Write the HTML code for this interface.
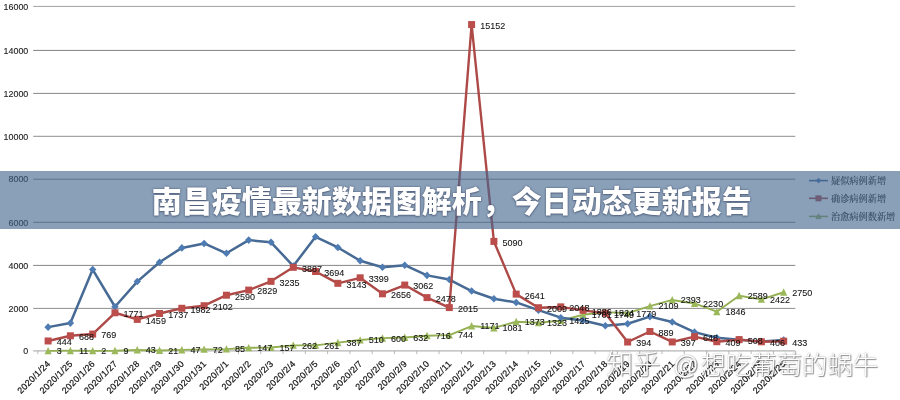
<!DOCTYPE html>
<html lang="zh-CN"><head><meta charset="utf-8"><title>南昌疫情最新数据图解析，今日动态更新报告</title>
<style>
html,body{margin:0;padding:0;background:#fff;}
body{width:900px;height:400px;position:relative;overflow:hidden;font-family:"Liberation Sans","Noto Sans CJK SC",sans-serif;}
.wm{position:absolute;left:606px;top:346px;font-size:26.4px;line-height:38px;color:#fff;white-space:nowrap;
 text-shadow:1px 1px 1px rgba(60,60,60,.55),0 0 1.5px rgba(60,60,60,.55);font-weight:300;}
.wm span{position:absolute;top:0;display:block;white-space:pre}
.w1{left:0;font-size:27.2px}.w2{left:60px;font-size:25.4px}.w3{left:94.5px;font-size:25.4px}
.banner{position:absolute;left:0;top:171px;width:900px;height:58px;background:rgba(66,102,142,.62);}
.title{position:absolute;left:1.8px;top:172.5px;width:900px;height:58px;line-height:58px;text-align:center;color:#fff;font-size:30px;font-weight:900;
 font-family:"Liberation Sans","Noto Sans CJK SC",sans-serif;white-space:nowrap;text-shadow:0 0 2px rgba(40,50,80,.75),0 1px 2px rgba(40,50,80,.4);}
</style></head><body>
<svg width="900" height="400" viewBox="0 0 900 400" style="position:absolute;left:0;top:0">
<rect width="900" height="400" fill="#fff"/>
<g stroke="#858585" stroke-width="1">
<line x1="33.2" x2="795.3" y1="308.4" y2="308.4" stroke="#8e8e8e"/>
<line x1="33.2" x2="795.3" y1="265.4" y2="265.4" stroke="#868686"/>
<line x1="33.2" x2="795.3" y1="222.3" y2="222.3" stroke="#868686"/>
<line x1="33.2" x2="795.3" y1="179.2" y2="179.2" stroke="#868686"/>
<line x1="33.2" x2="795.3" y1="136.3" y2="136.3" stroke="#8e8e8e"/>
<line x1="33.2" x2="795.3" y1="93.4" y2="93.4" stroke="#888"/>
<line x1="33.2" x2="795.3" y1="50.4" y2="50.4" stroke="#808080"/>
<line x1="33.2" x2="795.3" y1="6.4" y2="6.4" stroke="#a2a2a2"/>
</g>
<line x1="33.2" x2="795.3" y1="350.9" y2="350.9" stroke="#b4b4b4" stroke-width="1.2"/>
<g stroke="#a8a8a8" stroke-width="0.8">
<line x1="37.85" x2="37.85" y1="350.9" y2="354.09999999999997"/>
<line x1="60.14" x2="60.14" y1="350.9" y2="354.09999999999997"/>
<line x1="82.44" x2="82.44" y1="350.9" y2="354.09999999999997"/>
<line x1="104.73" x2="104.73" y1="350.9" y2="354.09999999999997"/>
<line x1="127.02" x2="127.02" y1="350.9" y2="354.09999999999997"/>
<line x1="149.3" x2="149.3" y1="350.9" y2="354.09999999999997"/>
<line x1="171.59" x2="171.59" y1="350.9" y2="354.09999999999997"/>
<line x1="193.89" x2="193.89" y1="350.9" y2="354.09999999999997"/>
<line x1="216.17" x2="216.17" y1="350.9" y2="354.09999999999997"/>
<line x1="238.47" x2="238.47" y1="350.9" y2="354.09999999999997"/>
<line x1="260.75" x2="260.75" y1="350.9" y2="354.09999999999997"/>
<line x1="283.04" x2="283.04" y1="350.9" y2="354.09999999999997"/>
<line x1="305.33" x2="305.33" y1="350.9" y2="354.09999999999997"/>
<line x1="327.62" x2="327.62" y1="350.9" y2="354.09999999999997"/>
<line x1="349.91" x2="349.91" y1="350.9" y2="354.09999999999997"/>
<line x1="372.2" x2="372.2" y1="350.9" y2="354.09999999999997"/>
<line x1="394.49" x2="394.49" y1="350.9" y2="354.09999999999997"/>
<line x1="416.78" x2="416.78" y1="350.9" y2="354.09999999999997"/>
<line x1="439.07" x2="439.07" y1="350.9" y2="354.09999999999997"/>
<line x1="461.36" x2="461.36" y1="350.9" y2="354.09999999999997"/>
<line x1="483.65" x2="483.65" y1="350.9" y2="354.09999999999997"/>
<line x1="505.94" x2="505.94" y1="350.9" y2="354.09999999999997"/>
<line x1="528.24" x2="528.24" y1="350.9" y2="354.09999999999997"/>
<line x1="550.52" x2="550.52" y1="350.9" y2="354.09999999999997"/>
<line x1="572.82" x2="572.82" y1="350.9" y2="354.09999999999997"/>
<line x1="595.11" x2="595.11" y1="350.9" y2="354.09999999999997"/>
<line x1="617.39" x2="617.39" y1="350.9" y2="354.09999999999997"/>
<line x1="639.68" x2="639.68" y1="350.9" y2="354.09999999999997"/>
<line x1="661.98" x2="661.98" y1="350.9" y2="354.09999999999997"/>
<line x1="684.26" x2="684.26" y1="350.9" y2="354.09999999999997"/>
<line x1="706.55" x2="706.55" y1="350.9" y2="354.09999999999997"/>
<line x1="728.85" x2="728.85" y1="350.9" y2="354.09999999999997"/>
<line x1="751.13" x2="751.13" y1="350.9" y2="354.09999999999997"/>
<line x1="773.42" x2="773.42" y1="350.9" y2="354.09999999999997"/>
<line x1="795.72" x2="795.72" y1="350.9" y2="354.09999999999997"/>
</g>
<g font-family="'Liberation Sans',sans-serif" font-size="8.9" fill="#1c1c1c" stroke="#1c1c1c" stroke-width="0.12" text-anchor="end">
<text x="28.3" y="354.10">0</text>
<text x="28.3" y="311.60">2000</text>
<text x="28.3" y="268.60">4000</text>
<text x="28.3" y="225.50">6000</text>
<text x="28.3" y="182.40">8000</text>
<text x="28.3" y="139.50">10000</text>
<text x="28.3" y="96.60">12000</text>
<text x="28.3" y="53.60">14000</text>
<text x="28.3" y="9.60">16000</text>
</g>
<g font-family="'Liberation Sans',sans-serif" font-size="8.9" fill="#111" text-anchor="end" stroke="#111" stroke-width="0.2" letter-spacing="0.33">
<text transform="translate(51.00,364.20) rotate(-45)">2020/1/24</text>
<text transform="translate(73.29,364.20) rotate(-45)">2020/1/25</text>
<text transform="translate(95.58,364.20) rotate(-45)">2020/1/26</text>
<text transform="translate(117.87,364.20) rotate(-45)">2020/1/27</text>
<text transform="translate(140.16,364.20) rotate(-45)">2020/1/28</text>
<text transform="translate(162.45,364.20) rotate(-45)">2020/1/29</text>
<text transform="translate(184.74,364.20) rotate(-45)">2020/1/30</text>
<text transform="translate(207.03,364.20) rotate(-45)">2020/1/31</text>
<text transform="translate(229.32,364.20) rotate(-45)">2020/2/1</text>
<text transform="translate(251.61,364.20) rotate(-45)">2020/2/2</text>
<text transform="translate(273.90,364.20) rotate(-45)">2020/2/3</text>
<text transform="translate(296.19,364.20) rotate(-45)">2020/2/4</text>
<text transform="translate(318.48,364.20) rotate(-45)">2020/2/5</text>
<text transform="translate(340.77,364.20) rotate(-45)">2020/2/6</text>
<text transform="translate(363.06,364.20) rotate(-45)">2020/2/7</text>
<text transform="translate(385.35,364.20) rotate(-45)">2020/2/8</text>
<text transform="translate(407.64,364.20) rotate(-45)">2020/2/9</text>
<text transform="translate(429.93,364.20) rotate(-45)">2020/2/10</text>
<text transform="translate(452.22,364.20) rotate(-45)">2020/2/11</text>
<text transform="translate(474.51,364.20) rotate(-45)">2020/2/12</text>
<text transform="translate(496.80,364.20) rotate(-45)">2020/2/13</text>
<text transform="translate(519.09,364.20) rotate(-45)">2020/2/14</text>
<text transform="translate(541.38,364.20) rotate(-45)">2020/2/15</text>
<text transform="translate(563.67,364.20) rotate(-45)">2020/2/16</text>
<text transform="translate(585.96,364.20) rotate(-45)">2020/2/17</text>
<text transform="translate(608.25,364.20) rotate(-45)">2020/2/18</text>
<text transform="translate(630.54,364.20) rotate(-45)">2020/2/19</text>
<text transform="translate(652.83,364.20) rotate(-45)">2020/2/20</text>
<text transform="translate(675.12,364.20) rotate(-45)">2020/2/21</text>
<text transform="translate(697.41,364.20) rotate(-45)">2020/2/22</text>
<text transform="translate(719.70,364.20) rotate(-45)">2020/2/23</text>
<text transform="translate(741.99,364.20) rotate(-45)">2020/2/24</text>
<text transform="translate(764.28,364.20) rotate(-45)">2020/2/25</text>
<text transform="translate(786.57,364.20) rotate(-45)">2020/2/26</text>
</g>
<polyline points="48.1,350.84 70.39,350.67 92.68,350.86 114.97,350.71 137.26,349.99 159.55,350.45 181.84,349.90 204.13,349.37 226.42,349.09 248.71,347.78 271.0,347.56 293.29,345.33 315.58,345.35 337.87,342.68 360.16,340.06 382.45,338.15 404.74,337.47 427.03,335.69 449.32,335.09 471.61,326.02 493.9,327.93 516.19,321.72 538.48,322.79 560.77,320.62 583.06,314.75 605.35,312.14 627.64,313.10 649.93,306.06 672.22,299.95 694.51,303.45 716.8,311.67 739.09,295.74 761.38,299.33 783.67,292.27" fill="none" stroke="#94b053" stroke-width="1.9" stroke-linejoin="round"/>
<g fill="#9bb85b">
<path d="M48.1,346.94 L51.70,354.34 L44.50,354.34Z"/>
<path d="M70.39,346.77 L73.99,354.17 L66.79,354.17Z"/>
<path d="M92.68,346.96 L96.28,354.36 L89.08,354.36Z"/>
<path d="M114.97,346.81 L118.57,354.21 L111.37,354.21Z"/>
<path d="M137.26,346.09 L140.86,353.49 L133.66,353.49Z"/>
<path d="M159.55,346.55 L163.15,353.95 L155.95,353.95Z"/>
<path d="M181.84,346.00 L185.44,353.40 L178.24,353.40Z"/>
<path d="M204.13,345.47 L207.73,352.87 L200.53,352.87Z"/>
<path d="M226.42,345.19 L230.02,352.59 L222.82,352.59Z"/>
<path d="M248.71,343.88 L252.31,351.28 L245.11,351.28Z"/>
<path d="M271.0,343.66 L274.60,351.06 L267.40,351.06Z"/>
<path d="M293.29,341.43 L296.89,348.83 L289.69,348.83Z"/>
<path d="M315.58,341.45 L319.18,348.85 L311.98,348.85Z"/>
<path d="M337.87,338.78 L341.47,346.18 L334.27,346.18Z"/>
<path d="M360.16,336.16 L363.76,343.56 L356.56,343.56Z"/>
<path d="M382.45,334.25 L386.05,341.65 L378.85,341.65Z"/>
<path d="M404.74,333.57 L408.34,340.97 L401.14,340.97Z"/>
<path d="M427.03,331.79 L430.63,339.19 L423.43,339.19Z"/>
<path d="M449.32,331.19 L452.92,338.59 L445.72,338.59Z"/>
<path d="M471.61,322.12 L475.21,329.52 L468.01,329.52Z"/>
<path d="M493.9,324.03 L497.50,331.43 L490.30,331.43Z"/>
<path d="M516.19,317.82 L519.79,325.22 L512.59,325.22Z"/>
<path d="M538.48,318.89 L542.08,326.29 L534.88,326.29Z"/>
<path d="M560.77,316.72 L564.37,324.12 L557.17,324.12Z"/>
<path d="M583.06,310.85 L586.66,318.25 L579.46,318.25Z"/>
<path d="M605.35,308.24 L608.95,315.64 L601.75,315.64Z"/>
<path d="M627.64,309.20 L631.24,316.60 L624.04,316.60Z"/>
<path d="M649.93,302.16 L653.53,309.56 L646.33,309.56Z"/>
<path d="M672.22,296.05 L675.82,303.45 L668.62,303.45Z"/>
<path d="M694.51,299.55 L698.11,306.95 L690.91,306.95Z"/>
<path d="M716.8,307.77 L720.40,315.17 L713.20,315.17Z"/>
<path d="M739.09,291.84 L742.69,299.24 L735.49,299.24Z"/>
<path d="M761.38,295.43 L764.98,302.83 L757.78,302.83Z"/>
<path d="M783.67,288.37 L787.27,295.77 L780.07,295.77Z"/>
</g>
<polyline points="48.1,327.14 70.39,323.08 92.68,269.57 114.97,306.74 137.26,281.57 159.55,262.21 181.84,247.90 204.13,243.44 226.42,253.29 248.71,240.12 271.0,242.30 293.29,266.02 315.58,236.78 337.87,247.45 360.16,260.79 382.45,267.21 404.74,265.23 427.03,275.38 449.32,279.55 471.61,291.05 493.9,298.72 516.19,302.44 538.48,310.14 560.77,317.69 583.06,320.47 605.35,325.72 627.64,323.76 649.93,316.60 672.22,321.98 694.51,332.16 716.8,337.72 739.09,339.64 761.38,341.57 783.67,340.10" fill="none" stroke="#466a94" stroke-width="2.5" stroke-linejoin="round"/>
<g fill="#4d7bb2">
<path d="M48.1,323.34 L51.80,327.14 L48.1,330.94 L44.40,327.14Z"/>
<path d="M70.39,319.28 L74.09,323.08 L70.39,326.88 L66.69,323.08Z"/>
<path d="M92.68,265.77 L96.38,269.57 L92.68,273.37 L88.98,269.57Z"/>
<path d="M114.97,302.94 L118.67,306.74 L114.97,310.54 L111.27,306.74Z"/>
<path d="M137.26,277.77 L140.96,281.57 L137.26,285.37 L133.56,281.57Z"/>
<path d="M159.55,258.41 L163.25,262.21 L159.55,266.01 L155.85,262.21Z"/>
<path d="M181.84,244.10 L185.54,247.9 L181.84,251.70 L178.14,247.9Z"/>
<path d="M204.13,239.64 L207.83,243.44 L204.13,247.24 L200.43,243.44Z"/>
<path d="M226.42,249.49 L230.12,253.29 L226.42,257.09 L222.72,253.29Z"/>
<path d="M248.71,236.32 L252.41,240.12 L248.71,243.92 L245.01,240.12Z"/>
<path d="M271.0,238.50 L274.70,242.3 L271.0,246.10 L267.30,242.3Z"/>
<path d="M293.29,262.22 L296.99,266.02 L293.29,269.82 L289.59,266.02Z"/>
<path d="M315.58,232.98 L319.28,236.78 L315.58,240.58 L311.88,236.78Z"/>
<path d="M337.87,243.65 L341.57,247.45 L337.87,251.25 L334.17,247.45Z"/>
<path d="M360.16,256.99 L363.86,260.79 L360.16,264.59 L356.46,260.79Z"/>
<path d="M382.45,263.41 L386.15,267.21 L382.45,271.01 L378.75,267.21Z"/>
<path d="M404.74,261.43 L408.44,265.23 L404.74,269.03 L401.04,265.23Z"/>
<path d="M427.03,271.58 L430.73,275.38 L427.03,279.18 L423.33,275.38Z"/>
<path d="M449.32,275.75 L453.02,279.55 L449.32,283.35 L445.62,279.55Z"/>
<path d="M471.61,287.25 L475.31,291.05 L471.61,294.85 L467.91,291.05Z"/>
<path d="M493.9,294.92 L497.60,298.72 L493.9,302.52 L490.20,298.72Z"/>
<path d="M516.19,298.64 L519.89,302.44 L516.19,306.24 L512.49,302.44Z"/>
<path d="M538.48,306.34 L542.18,310.14 L538.48,313.94 L534.78,310.14Z"/>
<path d="M560.77,313.89 L564.47,317.69 L560.77,321.49 L557.07,317.69Z"/>
<path d="M583.06,316.67 L586.76,320.47 L583.06,324.27 L579.36,320.47Z"/>
<path d="M605.35,321.92 L609.05,325.72 L605.35,329.52 L601.65,325.72Z"/>
<path d="M627.64,319.96 L631.34,323.76 L627.64,327.56 L623.94,323.76Z"/>
<path d="M649.93,312.80 L653.63,316.6 L649.93,320.40 L646.23,316.6Z"/>
<path d="M672.22,318.18 L675.92,321.98 L672.22,325.78 L668.52,321.98Z"/>
<path d="M694.51,328.36 L698.21,332.16 L694.51,335.96 L690.81,332.16Z"/>
<path d="M716.8,333.92 L720.50,337.72 L716.8,341.52 L713.10,337.72Z"/>
<path d="M739.09,335.84 L742.79,339.64 L739.09,343.44 L735.39,339.64Z"/>
<path d="M761.38,337.77 L765.08,341.57 L761.38,345.37 L757.68,341.57Z"/>
<path d="M783.67,336.30 L787.37,340.1 L783.67,343.90 L779.97,340.1Z"/>
</g>
<polyline points="48.1,340.96 70.39,335.78 92.68,334.06 114.97,312.77 137.26,319.40 159.55,313.49 181.84,308.28 204.13,305.71 226.42,295.21 248.71,290.08 271.0,281.35 293.29,267.33 315.58,271.48 337.87,283.33 360.16,277.82 382.45,293.80 404.74,285.07 427.03,297.62 449.32,307.58 471.61,24.56 493.9,241.41 516.19,294.12 538.48,307.71 560.77,306.87 583.06,310.32 605.35,313.23 627.64,342.03 649.93,331.51 672.22,341.96 694.51,336.63 716.8,341.71 739.09,339.60 761.38,341.77 783.67,341.20" fill="none" stroke="#ad4a47" stroke-width="2.4" stroke-linejoin="round"/>
<g fill="#bb4e4b">
<rect x="44.60" y="337.46" width="7" height="7"/>
<rect x="66.89" y="332.28" width="7" height="7"/>
<rect x="89.18" y="330.56" width="7" height="7"/>
<rect x="111.47" y="309.27" width="7" height="7"/>
<rect x="133.76" y="315.90" width="7" height="7"/>
<rect x="156.05" y="309.99" width="7" height="7"/>
<rect x="178.34" y="304.78" width="7" height="7"/>
<rect x="200.63" y="302.21" width="7" height="7"/>
<rect x="222.92" y="291.71" width="7" height="7"/>
<rect x="245.21" y="286.58" width="7" height="7"/>
<rect x="267.50" y="277.85" width="7" height="7"/>
<rect x="289.79" y="263.83" width="7" height="7"/>
<rect x="312.08" y="267.98" width="7" height="7"/>
<rect x="334.37" y="279.83" width="7" height="7"/>
<rect x="356.66" y="274.32" width="7" height="7"/>
<rect x="378.95" y="290.30" width="7" height="7"/>
<rect x="401.24" y="281.57" width="7" height="7"/>
<rect x="423.53" y="294.12" width="7" height="7"/>
<rect x="445.82" y="304.08" width="7" height="7"/>
<rect x="468.11" y="21.06" width="7" height="7"/>
<rect x="490.40" y="237.91" width="7" height="7"/>
<rect x="512.69" y="290.62" width="7" height="7"/>
<rect x="534.98" y="304.21" width="7" height="7"/>
<rect x="557.27" y="303.37" width="7" height="7"/>
<rect x="579.56" y="306.82" width="7" height="7"/>
<rect x="601.85" y="309.73" width="7" height="7"/>
<rect x="624.14" y="338.53" width="7" height="7"/>
<rect x="646.43" y="328.01" width="7" height="7"/>
<rect x="668.72" y="338.46" width="7" height="7"/>
<rect x="691.01" y="333.13" width="7" height="7"/>
<rect x="713.30" y="338.21" width="7" height="7"/>
<rect x="735.59" y="336.10" width="7" height="7"/>
<rect x="757.88" y="338.27" width="7" height="7"/>
<rect x="780.17" y="337.70" width="7" height="7"/>
</g>
<g font-family="'Liberation Sans',sans-serif" font-size="9" fill="#111" stroke="#111" stroke-width="0.08">
<text x="56.70" y="345.36">444</text>
<text x="78.99" y="340.18">688</text>
<text x="101.28" y="338.46">769</text>
<text x="123.57" y="317.17">1771</text>
<text x="145.86" y="323.80">1459</text>
<text x="168.15" y="317.89">1737</text>
<text x="190.44" y="312.68">1982</text>
<text x="212.73" y="310.11">2102</text>
<text x="235.02" y="299.61">2590</text>
<text x="257.31" y="294.48">2829</text>
<text x="279.60" y="285.75">3235</text>
<text x="301.89" y="271.73">3887</text>
<text x="324.18" y="275.88">3694</text>
<text x="346.47" y="287.73">3143</text>
<text x="368.76" y="282.22">3399</text>
<text x="391.05" y="298.20">2656</text>
<text x="413.34" y="289.47">3062</text>
<text x="435.63" y="302.02">2478</text>
<text x="457.92" y="311.98">2015</text>
<text x="480.21" y="28.96">15152</text>
<text x="502.50" y="245.81">5090</text>
<text x="524.79" y="298.52">2641</text>
<text x="547.08" y="312.11">2009</text>
<text x="569.37" y="311.27">2048</text>
<text x="591.66" y="314.72">1886</text>
<text x="613.95" y="317.63">1749</text>
<text x="636.24" y="346.43">394</text>
<text x="658.53" y="335.91">889</text>
<text x="680.82" y="346.36">397</text>
<text x="703.11" y="341.03">648</text>
<text x="725.40" y="346.11">409</text>
<text x="747.69" y="344.00">508</text>
<text x="769.98" y="346.17">406</text>
<text x="792.27" y="345.60">433</text>
<text x="56.70" y="354.24">3</text>
<text x="78.99" y="354.07">11</text>
<text x="101.28" y="354.26">2</text>
<text x="123.57" y="354.11">9</text>
<text x="145.86" y="353.39">43</text>
<text x="168.15" y="353.85">21</text>
<text x="190.44" y="353.30">47</text>
<text x="212.73" y="352.77">72</text>
<text x="235.02" y="352.49">85</text>
<text x="257.31" y="351.18">147</text>
<text x="279.60" y="350.96">157</text>
<text x="301.89" y="348.73">262</text>
<text x="324.18" y="348.75">261</text>
<text x="346.47" y="346.08">387</text>
<text x="368.76" y="343.46">510</text>
<text x="391.05" y="341.55">600</text>
<text x="413.34" y="340.87">632</text>
<text x="435.63" y="339.09">716</text>
<text x="457.92" y="338.49">744</text>
<text x="480.21" y="329.42">1171</text>
<text x="502.50" y="331.33">1081</text>
<text x="524.79" y="325.12">1373</text>
<text x="547.08" y="326.19">1323</text>
<text x="569.37" y="324.02">1425</text>
<text x="591.66" y="318.15">1701</text>
<text x="613.95" y="315.54">1824</text>
<text x="636.24" y="316.50">1779</text>
<text x="658.53" y="309.46">2109</text>
<text x="680.82" y="303.35">2393</text>
<text x="703.11" y="306.85">2230</text>
<text x="725.40" y="315.07">1846</text>
<text x="747.69" y="299.14">2589</text>
<text x="769.98" y="302.73">2422</text>
<text x="792.27" y="295.67">2750</text>
</g>
<g font-family="'Liberation Serif','Noto Serif CJK SC',serif" font-size="9.2" fill="#222" stroke="#222" stroke-width="0.15">
<line x1="809" x2="828" y1="180.6" y2="180.6" stroke="#466a94" stroke-width="1.6"/>
<path d="M818.5,178.0 L821.1,180.6 L818.5,183.2 L815.9,180.6Z" fill="#4d7bb2"/>
<text x="831" y="183.9">疑似病例新增</text>
<line x1="809" x2="828" y1="198.3" y2="198.3" stroke="#ad4a47" stroke-width="1.6"/>
<rect x="815.7" y="195.5" width="5.6" height="5.6" fill="#bb4e4b"/>
<text x="831" y="201.6">确诊病例新增</text>
<line x1="809" x2="828" y1="216.4" y2="216.4" stroke="#96b455" stroke-width="1.6"/>
<path d="M818.5,213.6 L821.3,218.8 L815.7,218.8Z" fill="#9bb85b"/>
<text x="831" y="219.7">治愈病例数新增</text>
</g>
</svg>
<div class="wm"><span class="w1">知乎</span><span class="w2"> @</span><span class="w3">想吃葡萄的蜗牛</span></div>
<div class="banner"></div>
<div class="title">南昌疫情最新数据图解析，今日动态更新报告</div>
</body></html>
